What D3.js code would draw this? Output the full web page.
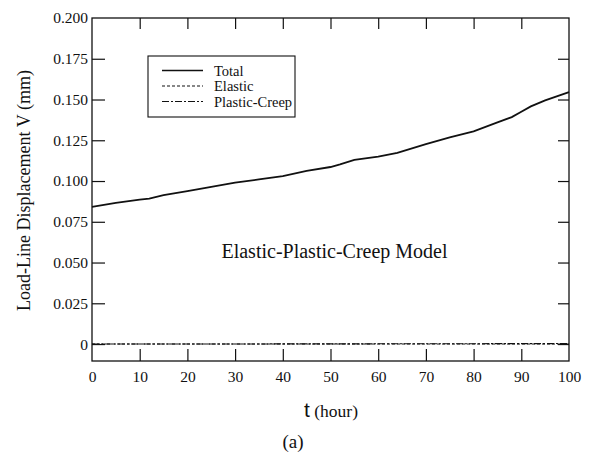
<!DOCTYPE html>
<html>
<head>
<meta charset="utf-8">
<script src="https://cdn.jsdelivr.net/npm/d3@7"></script>
<style>
  html, body { margin: 0; padding: 0; background: #fff; }
  svg { display: block; }
  text { font-family: "Liberation Serif", "Times New Roman", serif; fill: #111; }
</style>
</head>
<body>
<svg id="chart" width="593" height="458"></svg>
<script>
// Time (hours) and load-line displacement (mm)
const timeTotal = [0, 5, 10, 12, 15, 20, 25, 30, 35, 40, 45, 50, 52, 55, 60, 64, 70, 75, 80, 85, 88, 90, 92, 95, 100];
const totalDisp = [0.0842, 0.0866, 0.0886, 0.0892, 0.0913, 0.0938, 0.0964, 0.0990, 0.1010, 0.1030, 0.1062, 0.1086, 0.1102, 0.1130, 0.1150, 0.1172, 0.1226, 0.1268, 0.1305, 0.1360, 0.1392, 0.1425, 0.1458, 0.1495, 0.1545];
const timeElastic = [0, 50, 100];
const elasticDisp = [0.0, 0.0, 0.0];
const timeCreep = [0, 50, 100];
const creepDisp = [0.0, 0.0001, 0.0003];

const xTicks = [0, 10, 20, 30, 40, 50, 60, 70, 80, 90, 100];
const yTicks = [0, 0.025, 0.05, 0.075, 0.1, 0.125, 0.15, 0.175, 0.2];
const yTickLabels = ["0", "0.025", "0.050", "0.075", "0.100", "0.125", "0.150", "0.175", "0.200"];
const seriesNames = ["Total", "Elastic", "Plastic-Creep"];
const dashes = [null, "3,2", "7,2,2,2"];

const svg = d3.select("#chart");
const plotL = 92, plotR = 569, plotT = 18, plotB = 361;

const x = d3.scaleLinear().domain([0, 100]).range([plotL, plotR]);
const y = d3.scaleLinear().domain([-0.0104, 0.2]).range([plotB, plotT]);

// Frame
svg.append("rect")
  .attr("x", plotL).attr("y", plotT)
  .attr("width", plotR - plotL).attr("height", plotB - plotT)
  .attr("fill", "none").attr("stroke", "#111").attr("stroke-width", 1.3);

// Inward ticks on all four sides
const axB = d3.axisBottom(x).tickValues(xTicks).tickSize(-12).tickFormat(d => d);
const gB = svg.append("g").attr("transform", `translate(0,${plotB})`).call(axB);
const axT = d3.axisTop(x).tickValues(xTicks).tickSize(-11).tickFormat("");
const gT = svg.append("g").attr("transform", `translate(0,${plotT})`).call(axT);
const axL = d3.axisLeft(y).tickValues(yTicks).tickSize(-13)
  .tickFormat((d, i) => yTickLabels[i]);
const gL = svg.append("g").attr("transform", `translate(${plotL},0)`).call(axL);
const axR = d3.axisRight(y).tickValues(yTicks).tickSize(-11).tickFormat("");
const gR = svg.append("g").attr("transform", `translate(${plotR},0)`).call(axR);

[gB, gT, gL, gR].forEach(g => {
  g.select(".domain").remove();
  g.selectAll(".tick line").attr("stroke", "#111").attr("stroke-width", 1.2);
  g.selectAll("text").style("font-family", "'Liberation Serif', serif").attr("fill", "#111");
});
gB.selectAll(".tick text").style("font-size", "15.5px").attr("dy", "0.71em").attr("y", 10);
gL.selectAll(".tick text").style("font-size", "15.5px").attr("x", -4);
gL.selectAll(".tick").filter(d => d === 0.2).select("line").remove();
gR.selectAll(".tick").filter(d => d === 0.2).select("line").remove();
gT.selectAll(".tick").filter(d => d === 0 || d === 100).select("line").remove();
gB.selectAll(".tick").filter(d => d === 0 || d === 100).select("line").remove();

// Data lines
const line = d3.line().x(d => x(d[0])).y(d => y(d[1]));
const series = [
  d3.zip(timeTotal, totalDisp),
  d3.zip(timeElastic, elasticDisp),
  d3.zip(timeCreep, creepDisp)
];
series.forEach((pts, i) => {
  svg.append("path")
    .datum(pts)
    .attr("d", line)
    .attr("fill", "none")
    .attr("stroke", "#111")
    .attr("stroke-width", i === 0 ? 1.8 : 1.1)
    .attr("stroke-dasharray", dashes[i]);
});

// Legend
const lg = svg.append("g");
lg.append("rect").attr("x", 148).attr("y", 56).attr("width", 147).attr("height", 61)
  .attr("fill", "#fff").attr("stroke", "#111").attr("stroke-width", 1.1);
seriesNames.forEach((name, i) => {
  const yy = 70.5 + i * 15.5;
  lg.append("line").attr("x1", 162).attr("x2", 203).attr("y1", yy).attr("y2", yy)
    .attr("stroke", "#111").attr("stroke-width", i === 0 ? 1.5 : 1.1)
    .attr("stroke-dasharray", dashes[i]);
  lg.append("text").attr("x", 214).attr("y", yy).attr("dy", "0.35em")
    .style("font-size", "14.5px").text(name);
});

// Annotation
svg.append("text").attr("x", 334.5).attr("y", 258).attr("text-anchor", "middle")
  .style("font-size", "20px").text("Elastic-Plastic-Creep Model");

// Axis titles
svg.append("text")
  .attr("transform", "translate(30,190.5) rotate(-90)")
  .attr("text-anchor", "middle")
  .style("font-size", "18px")
  .text("Load-Line Displacement V (mm)");

const xt = svg.append("text").attr("x", 331).attr("y", 417).attr("text-anchor", "middle");
xt.append("tspan").style("font-size", "21px").style("font-family", "'Liberation Sans', sans-serif").text("t");
xt.append("tspan").style("font-size", "17.5px").text(" (hour)");

svg.append("text").attr("x", 293).attr("y", 448).attr("text-anchor", "middle")
  .style("font-size", "19px").text("(a)");
</script>
</body>
</html>
